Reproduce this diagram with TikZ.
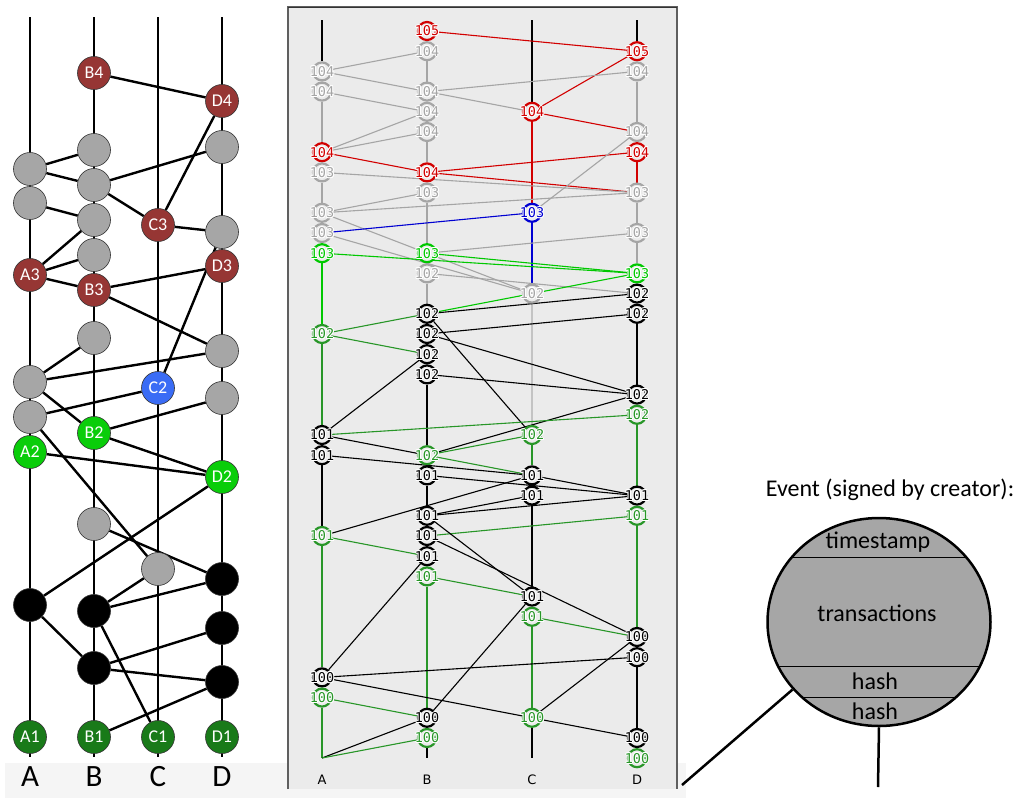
\documentclass[tikz,border=0pt]{standalone}
\usepackage{fontspec}
\setmainfont{Carlito}
\newfontfamily\monofnt{DejaVu Sans Mono}
\newfontfamily\dvsfnt{DejaVu Sans}
\usetikzlibrary{shapes.geometric}
\pgfdeclarelayer{back}
\pgfdeclarelayer{edges}
\pgfsetlayers{back,edges,main}
\definecolor{lredc}{RGB}{150,54,52}
\definecolor{lbluec}{RGB}{58,108,245}
\definecolor{lgreenc}{RGB}{10,205,10}
\definecolor{ldkgreenc}{RGB}{25,122,25}
\definecolor{lgrayc}{RGB}{166,166,166}
\definecolor{mred}{RGB}{210,0,0}
\definecolor{mblue}{RGB}{0,0,210}
\definecolor{mbgreen}{RGB}{0,200,0}
\definecolor{mmgreen}{RGB}{40,150,40}
\definecolor{mgray}{RGB}{165,165,165}
\definecolor{mlgray}{RGB}{195,195,195}
\definecolor{panelbg}{RGB}{235,235,235}
\definecolor{bandbg}{RGB}{245,245,245}
\definecolor{frmc}{RGB}{95,95,95}
\definecolor{evfill}{RGB}{166,166,166}
\def\mxA{322}\def\mxB{427}\def\mxC{532}\def\mxD{637}
\newcommand\mev[5]{%
  \node[ring,draw=#4] (#1) at (#2,{31+20.2*#3}) {};
  \foreach \dx/\dy in {1/0,-1/0,0/1,0/-1,0.7/0.7,-0.7/0.7,0.7/-0.7,-0.7/-0.7}
    {\node[numtxt,text=white] at ([shift={(\dx pt,\dy pt)}]#1) {#5};}
  \node[numtxt,text=#4] (#1t) at (#1) {#5};
}
\begin{document}
\begin{tikzpicture}[x=1pt,y=-1pt,
  lnd/.style={circle,minimum size=33pt,inner sep=0pt,draw=black!80,line width=0.6pt,
    font=\fontsize{18}{18}\selectfont,text=white},
  ledge/.style={line width=2.4pt,black},
  lcol/.style={line width=2.4pt,black},
  llab/.style={font=\fontsize{31}{31}\selectfont,inner sep=0pt},
  ring/.style={circle,minimum size=18pt,inner sep=0pt,line width=2.2pt,fill=panelbg},
  numtxt/.style={font=\monofnt\fontsize{13.5}{13.5}\selectfont,inner sep=0pt},
  medge/.style={line width=1.1pt},
  mcol/.style={line width=1.6pt},
  mlab/.style={font=\dvsfnt\fontsize{13}{13}\selectfont,inner sep=0pt},
  evtxt/.style={font=\fontsize{24}{24}\selectfont,inner sep=0pt},
  evline/.style={line width=2.5pt,black}]
\useasboundingbox (0,0) rectangle (1020,798);

% ---------------- backgrounds ----------------
\begin{pgfonlayer}{back}
  \fill[bandbg] (5,763) rectangle (686,798);
  \fill[panelbg] (288,7) rectangle (677,789);
  \draw[frmc,line width=1.6pt] (288,789) -- (288,7) -- (677,7) -- (677,789);
  \draw[black!80,line width=0.8pt] (288,7) -- (677,7);
\end{pgfonlayer}

% ---------------- left panel ----------------
\node[lnd,fill=lredc] (LB4) at (94,73) {B4};
\node[lnd,fill=lredc] (LD4) at (222,101) {D4};
\node[lnd,fill=lgrayc] (Lg1) at (94,150) {};
\node[lnd,fill=lgrayc] (Lg2) at (222,147) {};
\node[lnd,fill=lgrayc] (Lg3) at (30,169) {};
\node[lnd,fill=lgrayc] (Lg4) at (94,185) {};
\node[lnd,fill=lgrayc] (Lg5) at (30,203) {};
\node[lnd,fill=lgrayc] (Lg6) at (94,220) {};
\node[lnd,fill=lredc] (LC3) at (158,225) {C3};
\node[lnd,fill=lgrayc] (Lg7) at (222,232) {};
\node[lnd,fill=lgrayc] (Lg8) at (94,255) {};
\node[lnd,fill=lredc] (LA3) at (30,275) {A3};
\node[lnd,fill=lredc] (LD3) at (222,266) {D3};
\node[lnd,fill=lredc] (LB3) at (94,290) {B3};
\node[lnd,fill=lgrayc] (Lg9) at (94,338) {};
\node[lnd,fill=lgrayc] (Lg10) at (222,351) {};
\node[lnd,fill=lgrayc] (Lg11) at (30,382) {};
\node[lnd,fill=lbluec] (LC2) at (158,388) {C2};
\node[lnd,fill=lgrayc] (Lg12) at (222,398) {};
\node[lnd,fill=lgrayc] (Lg13) at (30,417) {};
\node[lnd,fill=lgreenc] (LB2) at (94,433) {B2};
\node[lnd,fill=lgreenc] (LA2) at (30,452) {A2};
\node[lnd,fill=lgreenc] (LD2) at (222,477) {D2};
\node[lnd,fill=lgrayc] (Lg14) at (94,524) {};
\node[lnd,fill=lgrayc] (Lg15) at (158,569) {};
\node[lnd,fill=black] (Lk1) at (222,579) {};
\node[lnd,fill=black] (Lk2) at (30,605) {};
\node[lnd,fill=black] (Lk3) at (94,611) {};
\node[lnd,fill=black] (Lk4) at (222,628) {};
\node[lnd,fill=black] (Lk5) at (94,668) {};
\node[lnd,fill=black] (Lk6) at (222,682) {};
\node[lnd,fill=ldkgreenc] (LA1) at (30,737) {A1};
\node[lnd,fill=ldkgreenc] (LB1) at (94,737) {B1};
\node[lnd,fill=ldkgreenc] (LC1) at (158,737) {C1};
\node[lnd,fill=ldkgreenc] (LD1) at (222,737) {D1};
\node[llab] (LlA) at (30,777) {A};
\node[llab] (LlB) at (94,777) {B};
\node[llab] (LlC) at (158,777) {C};
\node[llab] (LlD) at (222,777) {D};
\coordinate (LtA) at (30,17);  \coordinate (LbA) at (30,757);
\coordinate (LtB) at (94,17);  \coordinate (LbB) at (94,757);
\coordinate (LtC) at (158,17); \coordinate (LbC) at (158,757);
\coordinate (LtD) at (222,17); \coordinate (LbD) at (222,757);

\begin{pgfonlayer}{edges}
  \draw[lcol] (LtA) -- (LbA);
  \draw[lcol] (LtB) -- (LbB);
  \draw[lcol] (LtC) -- (LbC);
  \draw[lcol] (LtD) -- (LbD);
  \draw[ledge] (LB4) -- (LD4);
  \draw[ledge] (LD4) -- (LC3);
  \draw[ledge] (Lg3) -- (Lg1);
  \draw[ledge] (Lg3) -- (Lg4);
  \draw[ledge] (Lg4) -- (Lg2);
  \draw[ledge] (Lg4) -- (LC3);
  \draw[ledge] (Lg5) -- (Lg6);
  \draw[ledge] (LA3) -- (Lg6);
  \draw[ledge] (LA3) -- (Lg8);
  \draw[ledge] (LA3) -- (LB3);
  \draw[ledge] (LC3) -- (Lg7);
  \draw[ledge] (LB3) -- (LD3);
  \draw[ledge] (LB3) -- (Lg10);
  \draw[ledge] (Lg7) -- (LC2);
  \draw[ledge] (Lg11) -- (Lg9);
  \draw[ledge] (Lg11) -- (Lg10);
  \draw[ledge] (Lg11) -- (LB2);
  \draw[ledge] (Lg13) -- (LC2);
  \draw[ledge] (LB2) -- (Lg12);
  \draw[ledge] (LB2) -- (LD2);
  \draw[ledge] (LA2) -- (LD2);
  \draw[ledge] (Lg13) -- (Lg15);
  \draw[ledge] (Lg14) -- (Lk1);
  \draw[ledge] (LD2) -- (Lk2);
  \draw[ledge] (Lg15) -- (Lk3);
  \draw[ledge] (Lk3) -- (Lk1);
  \draw[ledge] (Lk2) -- (Lk5);
  \draw[ledge] (Lk5) -- (Lk4);
  \draw[ledge] (Lk5) -- (Lk6);
  \draw[ledge] (Lk3) -- (LC1);
  \draw[ledge] (Lk6) -- (LB1);
\end{pgfonlayer}

% ---------------- middle panel ----------------
\mev{b0}{\mxB}{0}{mred}{105}
\mev{b1}{\mxB}{1}{mgray}{104}
\mev{d1}{\mxD}{1}{mred}{105}
\mev{a2}{\mxA}{2}{mgray}{104}
\mev{d2}{\mxD}{2}{mgray}{104}
\mev{a3}{\mxA}{3}{mgray}{104}
\mev{b3}{\mxB}{3}{mgray}{104}
\mev{b4}{\mxB}{4}{mgray}{104}
\mev{c4}{\mxC}{4}{mred}{104}
\mev{b5}{\mxB}{5}{mgray}{104}
\mev{d5}{\mxD}{5}{mgray}{104}
\mev{a6}{\mxA}{6}{mred}{104}
\mev{d6}{\mxD}{6}{mred}{104}
\mev{a7}{\mxA}{7}{mgray}{103}
\mev{b7}{\mxB}{7}{mred}{104}
\mev{b8}{\mxB}{8}{mgray}{103}
\mev{d8}{\mxD}{8}{mgray}{103}
\mev{a9}{\mxA}{9}{mgray}{103}
\mev{c9}{\mxC}{9}{mblue}{103}
\mev{a10}{\mxA}{10}{mgray}{103}
\mev{d10}{\mxD}{10}{mgray}{103}
\mev{a11}{\mxA}{11}{mbgreen}{103}
\mev{b11}{\mxB}{11}{mbgreen}{103}
\mev{b12}{\mxB}{12}{mgray}{102}
\mev{d12}{\mxD}{12}{mbgreen}{103}
\mev{c13}{\mxC}{13}{mgray}{102}
\mev{d13}{\mxD}{13}{black}{102}
\mev{b14}{\mxB}{14}{black}{102}
\mev{d14}{\mxD}{14}{black}{102}
\mev{a15}{\mxA}{15}{mmgreen}{102}
\mev{b15}{\mxB}{15}{black}{102}
\mev{b16}{\mxB}{16}{black}{102}
\mev{b17}{\mxB}{17}{black}{102}
\mev{d18}{\mxD}{18}{black}{102}
\mev{d19}{\mxD}{19}{mmgreen}{102}
\mev{a20}{\mxA}{20}{black}{101}
\mev{c20}{\mxC}{20}{mmgreen}{102}
\mev{a21}{\mxA}{21}{black}{101}
\mev{b21}{\mxB}{21}{mmgreen}{102}
\mev{b22}{\mxB}{22}{black}{101}
\mev{c22}{\mxC}{22}{black}{101}
\mev{c23}{\mxC}{23}{black}{101}
\mev{d23}{\mxD}{23}{black}{101}
\mev{b24}{\mxB}{24}{black}{101}
\mev{d24}{\mxD}{24}{mmgreen}{101}
\mev{a25}{\mxA}{25}{mmgreen}{101}
\mev{b25}{\mxB}{25}{black}{101}
\mev{b26}{\mxB}{26}{black}{101}
\mev{b27}{\mxB}{27}{mmgreen}{101}
\mev{c28}{\mxC}{28}{black}{101}
\mev{c29}{\mxC}{29}{mmgreen}{101}
\mev{d30}{\mxD}{30}{black}{100}
\mev{d31}{\mxD}{31}{black}{100}
\mev{a32}{\mxA}{32}{black}{100}
\mev{a33}{\mxA}{33}{mmgreen}{100}
\mev{b34}{\mxB}{34}{black}{100}
\mev{c34}{\mxC}{34}{mmgreen}{100}
\mev{b35}{\mxB}{35}{mmgreen}{100}
\mev{d35}{\mxD}{35}{black}{100}
\mev{d36}{\mxD}{36}{mmgreen}{100}
\coordinate (abot) at (\mxA,758);
\coordinate (mbB) at (\mxB,758);
\coordinate (mbC) at (\mxC,758);
\coordinate (mtA) at (\mxA,20);
\coordinate (mtC) at (\mxC,20);
\coordinate (mtD) at (\mxD,20);
\node[mlab] (mlA) at (\mxA,780) {A};
\node[mlab] (mlB) at (\mxB,780) {B};
\node[mlab] (mlC) at (\mxC,780) {C};
\node[mlab] (mlD) at (\mxD,780) {D};

\begin{pgfonlayer}{edges}
  % columns
  \draw[mcol,black] (mtA) -- (a2);
  \draw[mcol,mgray] (a2) -- (a3) -- (a6);
  \draw[mcol,mred] (a6) -- (a7);
  \draw[mcol,mgray] (a7) -- (a9) -- (a10) -- (a11);
  \draw[mcol,mbgreen] (a11) -- (a15);
  \draw[mcol,mmgreen] (a15) -- (a20);
  \draw[mcol,black] (a20) -- (a21) -- (a25);
  \draw[mcol,mmgreen] (a25) -- (a32);
  \draw[mcol,black] (a32) -- (a33);
  \draw[mcol,mmgreen] (a33) -- (abot);
  \draw[mcol,mred] (b0) -- (b1);
  \draw[mcol,mgray] (b1) -- (b3) -- (b4) -- (b5) -- (b7);
  \draw[mcol,mred] (b7) -- (b8);
  \draw[mcol,mgray] (b8) -- (b11);
  \draw[mcol,mbgreen] (b11) -- (b12);
  \draw[mcol,mgray] (b12) -- (b14);
  \draw[mcol,black] (b14) -- (b15) -- (b16) -- (b17) -- (b21);
  \draw[mcol,mmgreen] (b21) -- (b22);
  \draw[mcol,black] (b22) -- (b24) -- (b25) -- (b26) -- (b27);
  \draw[mcol,mmgreen] (b27) -- (b34);
  \draw[mcol,black] (b34) -- (b35) -- (mbB);
  \draw[mcol,black] (mtC) -- (c4);
  \draw[mcol,mred] (c4) -- (c9);
  \draw[mcol,mblue] (c9) -- (c13);
  \draw[mcol,mlgray] (c13) -- (c20);
  \draw[mcol,mmgreen] (c20) -- (c22);
  \draw[mcol,black] (c22) -- (c23) -- (c28) -- (c29);
  \draw[mcol,mmgreen] (c29) -- (c34);
  \draw[mcol,black] (c34) -- (mbC);
  \draw[mcol,black] (mtD) -- (d1);
  \draw[mcol,mred] (d1) -- (d2);
  \draw[mcol,mgray] (d2) -- (d5) -- (d6);
  \draw[mcol,mred] (d6) -- (d8);
  \draw[mcol,mgray] (d8) -- (d10) -- (d12);
  \draw[mcol,mbgreen] (d12) -- (d13);
  \draw[mcol,black] (d13) -- (d14) -- (d18) -- (d19);
  \draw[mcol,mmgreen] (d19) -- (d23);
  \draw[mcol,black] (d23) -- (d24);
  \draw[mcol,mmgreen] (d24) -- (d30);
  \draw[mcol,black] (d30) -- (d31) -- (d35) -- (d36);
  % cross edges
  \draw[medge,mred] (b0) -- (d1);
  \draw[medge,mred] (d1) -- (c4);
  \draw[medge,mgray] (a2) -- (b1);
  \draw[medge,mgray] (a2) -- (b3);
  \draw[medge,mgray] (a3) -- (b4);
  \draw[medge,mgray] (b3) -- (d2);
  \draw[medge,mgray] (b3) -- (c4);
  \draw[medge,mred] (c4) -- (d5);
  \draw[medge,mgray] (a6) -- (b4);
  \draw[medge,mgray] (a6) -- (b5);
  \draw[medge,mred] (a6) -- (b7);
  \draw[medge,mred] (d6) -- (b7);
  \draw[medge,mred] (b7) -- (d8);
  \draw[medge,mgray] (a7) -- (d8);
  \draw[medge,mgray] (d5) -- (c9);
  \draw[medge,mgray] (b8) -- (a9);
  \draw[medge,mgray] (d8) -- (a9);
  \draw[medge,mgray] (a9) -- (c13);
  \draw[medge,mgray] (a10) -- (c13);
  \draw[medge,mblue] (c9) -- (a10);
  \draw[medge,mgray] (d10) -- (b11);
  \draw[medge,mbgreen] (a11) -- (d12);
  \draw[medge,mbgreen] (b11) -- (d12);
  \draw[medge,mgray] (b12) -- (d13);
  \draw[medge,mbgreen] (d12) -- (b14);
  \draw[medge,black] (d13) -- (b14);
  \draw[medge,mmgreen] (a15) -- (b14);
  \draw[medge,mmgreen] (a15) -- (b16);
  \draw[medge,black] (b15) -- (d14);
  \draw[medge,black] (b14) -- (c20);
  \draw[medge,black] (b15) -- (d18);
  \draw[medge,black] (b17) -- (d18);
  \draw[medge,black] (b16) -- (a20);
  \draw[medge,black] (d18) -- (b21);
  \draw[medge,mmgreen] (d19) -- (a20);
  \draw[medge,black] (a20) -- (b21);
  \draw[medge,mmgreen] (c20) -- (b21);
  \draw[medge,mmgreen] (b21) -- (c22);
  \draw[medge,black] (a21) -- (c22);
  \draw[medge,black] (b22) -- (d23);
  \draw[medge,black] (c22) -- (d23);
  \draw[medge,black] (c22) -- (a25);
  \draw[medge,black] (c23) -- (b24);
  \draw[medge,black] (d23) -- (b24);
  \draw[medge,mmgreen] (d24) -- (b25);
  \draw[medge,mmgreen] (a25) -- (b26);
  \draw[medge,black] (b24) -- (c28);
  \draw[medge,black] (b25) -- (d30);
  \draw[medge,black] (b26) -- (a32);
  \draw[medge,mmgreen] (b27) -- (c28);
  \draw[medge,black] (c28) -- (b34);
  \draw[medge,mmgreen] (c29) -- (d30);
  \draw[medge,black] (a32) -- (d31);
  \draw[medge,black] (a32) -- (d35);
  \draw[medge,mmgreen] (a33) -- (b34);
  \draw[medge,black] (c34) -- (d30);
  \draw[medge,black] (abot) -- (b34);
  \draw[medge,mmgreen] (abot) -- (b35);
\end{pgfonlayer}

% ---------------- right panel ----------------
\node[evtxt] (evtitle) at (890,490) {Event (signed by creator):};
\begin{scope}
  \clip (879,622) ellipse [x radius=111.5pt, y radius=104pt];
  \fill[evfill] (760,510) rectangle (1000,740);
  \draw[line width=1.5pt] (760,557.7) -- (1000,557.7);
  \draw[line width=1.5pt] (760,666.7) -- (1000,666.7);
  \draw[line width=1.5pt] (760,697.7) -- (1000,697.7);
\end{scope}
\node[ellipse,draw,line width=2.5pt,minimum width=223pt,minimum height=208pt,inner sep=0pt] (evt) at (879,622) {};
\node[evtxt] (evts) at (878,542) {timestamp};
\node[evtxt] (evtr) at (877,613) {transactions};
\node[evtxt] (evh1) at (875,681) {hash};
\node[evtxt] (evh2) at (875,711) {hash};
\coordinate (evl) at (682,785);
\coordinate (evb) at (878,787);
\draw[evline] (evt.218) -- (evl);
\draw[evline] (evt.south) -- (evb);
\end{tikzpicture}
\end{document}
